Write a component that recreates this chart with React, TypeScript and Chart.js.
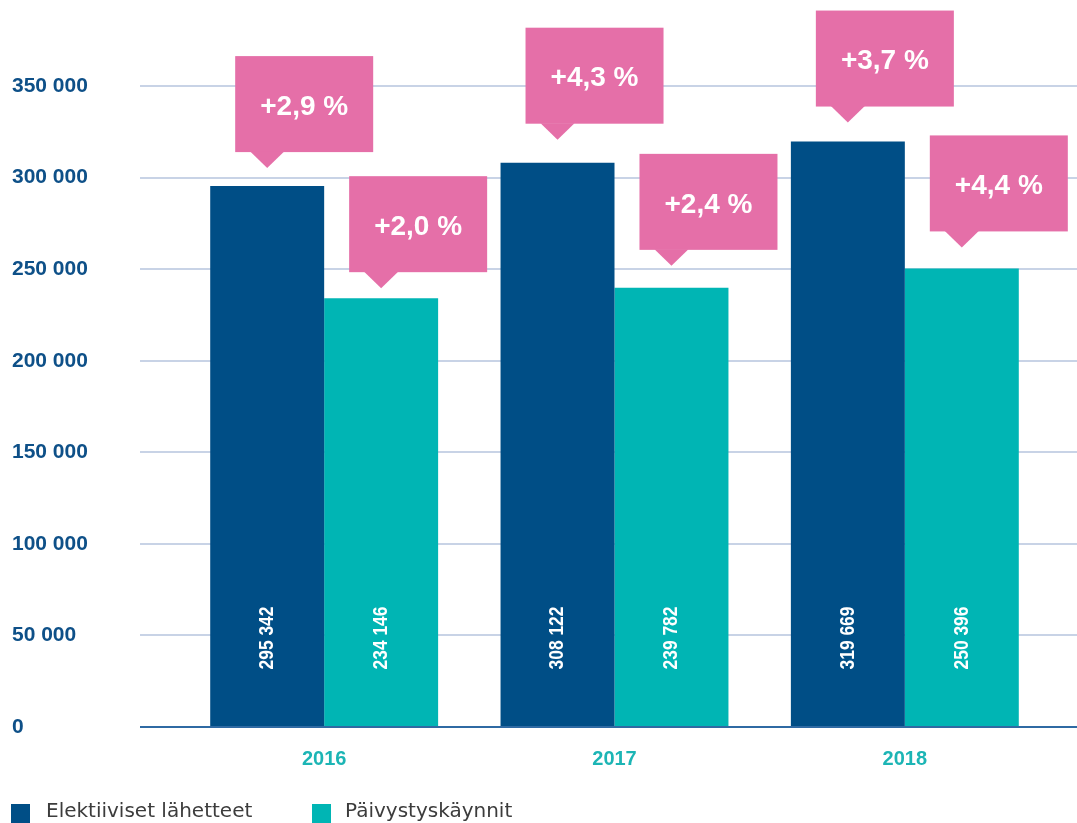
import React, { useEffect, useRef } from 'react';
import { Chart, registerables } from 'chart.js';

Chart.register(...registerables);

const years = ['2016', '2017', '2018'];
const seriesNames = ['Elektiiviset lähetteet', 'Päivystyskäynnit'];
const elektiiviset = [295342, 308122, 319669];
const paivystys = [234146, 239782, 250396];
const elektiivisetChange = ['+2,9 %', '+4,3 %', '+3,7 %'];
const paivystysChange = ['+2,0 %', '+2,4 %', '+4,4 %'];
const yMax = 350000;
const yStep = 50000;

const DARK = '#004e86';
const TEAL = '#00b5b4';
const PINK = '#e56fa8';
const GRID = '#c8d3e6';
const AXIS = '#2f6aa3';
const YLAB = '#0e5088';
const XLAB = '#1cb5b5';
const LEGTXT = '#3c3c3c';

// style: gap (px) between each callout pointer tip and its bar top
const calloutGap = [[18, 23, 19], [10, 22, 21]];

const fmt = (v: number) => String(v).replace(/\B(?=(\d{3})+(?!\d))/g, ' ');

const changes = [elektiivisetChange, paivystysChange];
const colors = [DARK, TEAL];

const decor = {
  id: 'decor',
  beforeDatasetsDraw(chart: any) {
    const { ctx, width } = chart;
    const y = chart.scales.y;
    ctx.save();
    ctx.strokeStyle = GRID;
    ctx.lineWidth = 2;
    for (let v = yStep; v <= yMax; v += yStep) {
      const py = Math.round(y.getPixelForValue(v));
      ctx.beginPath();
      ctx.moveTo(140, py);
      ctx.lineTo(width, py);
      ctx.stroke();
    }
    ctx.restore();
  },
  afterDatasetsDraw(chart: any) {
    const { ctx, width } = chart;
    const y = chart.scales.y;
    const py0 = y.getPixelForValue(0);
    ctx.save();
    ctx.strokeStyle = AXIS;
    ctx.lineWidth = 2;
    ctx.beginPath();
    ctx.moveTo(140, py0);
    ctx.lineTo(width, py0);
    ctx.stroke();

    chart.data.datasets.forEach((ds: any, di: number) => {
      const meta = chart.getDatasetMeta(di);
      meta.data.forEach((bar: any, i: number) => {
        // value label (condensed)
        ctx.save();
        ctx.translate(bar.x, py0 - 89);
        ctx.rotate(-Math.PI / 2);
        ctx.scale(0.83, 1);
        ctx.font = 'bold 21px "Liberation Sans", Arial, sans-serif';
        ctx.fillStyle = '#ffffff';
        ctx.textAlign = 'center';
        ctx.textBaseline = 'middle';
        ctx.fillText(fmt(ds.data[i]), 0, 0);
        ctx.restore();

        // callout
        const tipX = bar.x;
        const tipY = bar.y - calloutGap[di][i];
        const rl = tipX - 32;
        const rb = tipY - 16;
        const rt = rb - 96;
        ctx.fillStyle = PINK;
        ctx.fillRect(rl, rt, 138, 96);
        ctx.beginPath();
        ctx.moveTo(rl + 15, rb - 0.5);
        ctx.lineTo(tipX, tipY);
        ctx.lineTo(rl + 49, rb - 0.5);
        ctx.closePath();
        ctx.fill();
        ctx.fillStyle = '#ffffff';
        ctx.font = 'bold 28px "Liberation Sans", Arial, sans-serif';
        ctx.textAlign = 'center';
        ctx.textBaseline = 'middle';
        ctx.fillText(changes[di][i], rl + 69, rt + 51);
      });
    });
    ctx.restore();
  },
  afterDraw(chart: any) {
    const { ctx } = chart;
    ctx.save();
    const boxX = [11, 312];
    const textX = [46, 345];
    seriesNames.forEach((name, i) => {
      ctx.fillStyle = colors[i];
      ctx.fillRect(boxX[i], 804, 19, 19);
      ctx.fillStyle = LEGTXT;
      ctx.font = '20px "DejaVu Sans", sans-serif';
      ctx.textAlign = 'left';
      ctx.textBaseline = 'middle';
      ctx.fillText(name, textX[i], 812);
    });
    ctx.restore();
  },
};

export default function App() {
  const ref = useRef<HTMLCanvasElement>(null);
  useEffect(() => {
    if (!ref.current) return;
    const chart = new Chart(ref.current, {
      type: 'bar',
      data: {
        labels: years,
        datasets: [
          { label: seriesNames[0], data: elektiiviset, backgroundColor: DARK, borderWidth: 0 },
          { label: seriesNames[1], data: paivystys, backgroundColor: TEAL, borderWidth: 0 },
        ],
      },
      options: {
        animation: false,
        responsive: false,
        devicePixelRatio: 1,
        events: [],
        layout: { padding: { top: 86, left: 12, right: 27, bottom: 36 } },
        datasets: { bar: { barPercentage: 1, categoryPercentage: 0.785 } },
        plugins: { legend: { display: false }, tooltip: { enabled: false } },
        scales: {
          x: {
            grid: { display: false, drawTicks: false },
            border: { display: false },
            ticks: {
              color: XLAB,
              font: { family: '"Liberation Sans", Arial, sans-serif', size: 20, weight: 'bold' },
              padding: 20,
            },
            afterFit: (s: any) => { s.height = 60; },
          },
          y: {
            min: 0,
            max: yMax,
            grid: { display: false, drawTicks: false },
            border: { display: false },
            ticks: {
              stepSize: yStep,
              crossAlign: 'far',
              color: YLAB,
              font: { family: '"Liberation Sans", Arial, sans-serif', size: 21, weight: 'bold' },
              callback: (v: any) => fmt(Number(v)),
            },
            afterFit: (s: any) => { s.width = 167; },
          },
        },
      },
      plugins: [decor],
    } as any);
    return () => chart.destroy();
  }, []);
  return (
    <div style={{ position: 'absolute', left: 0, top: 0, width: 1077, height: 823 }}>
      <canvas ref={ref} width={1077} height={823} style={{ display: 'block' }} />
    </div>
  );
}
